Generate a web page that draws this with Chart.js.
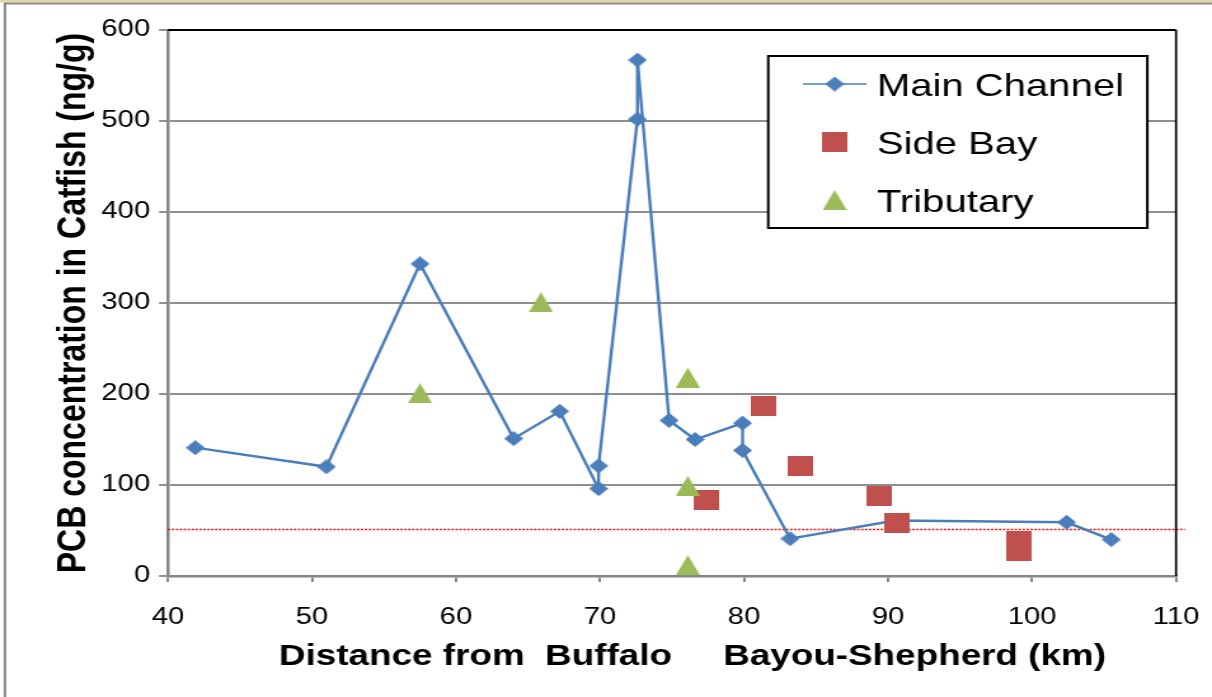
<!DOCTYPE html>
<html><head><meta charset="utf-8">
<script src="https://cdn.jsdelivr.net/npm/chart.js@4.4.1/dist/chart.umd.min.js"></script>
<style>
html,body{margin:0;padding:0;background:#fff;overflow:hidden;}
#wrap{width:954px;height:697px;transform:scaleX(1.27044);transform-origin:0 0;}
canvas{display:block;}
</style></head><body>
<div id="wrap"><canvas id="c" width="954" height="697"></canvas></div>
<script>
// ---- data ----
const seriesNames = ['Main Channel', 'Side Bay', 'Tributary'];
const mainX = [41.9, 51.0, 57.5, 64.0, 67.2, 69.9, 69.9, 72.6, 72.6, 74.8, 76.6, 79.9, 79.9, 83.2, 90.5, 102.4, 105.5];
const mainY = [141, 120, 343, 151, 181, 96, 121, 502, 567, 171, 150, 168, 138, 41, 61, 59, 40];
const sideX = [77.4, 81.4, 83.9, 89.4, 90.6, 99.1, 99.1];
const sideY = [83, 187, 121, 88, 58, 38, 27];
const tribX = [57.5, 65.9, 76.1, 76.1, 76.1];
const tribY = [201, 301, 218, 99, 12];
const refLevel = [52];
const xTicks = [40, 50, 60, 70, 80, 90, 100, 110];
const yTicks = [0, 100, 200, 300, 400, 500, 600];
const xTitle = '    Distance from  Buffalo     Bayou-Shepherd (km)';
const yTitle = 'PCB concentration in Catfish (ng/g)';

const BLUE = '#4A7EBB', RED = '#C0504D', GREEN = '#9BBB59';

function makeMarker(kind, color, w, h) {
  const c = document.createElement('canvas');
  c.width = w; c.height = h;
  const g = c.getContext('2d');
  g.fillStyle = color;
  g.beginPath();
  if (kind === 'diamond') { g.moveTo(w/2, 0); g.lineTo(w, h/2); g.lineTo(w/2, h); g.lineTo(0, h/2); }
  else if (kind === 'square') { g.rect(0, 0, w, h); }
  else { g.moveTo(w/2, 0); g.lineTo(w, h); g.lineTo(0, h); }
  g.closePath(); g.fill();
  return c;
}
const mkDiamond = makeMarker('diamond', BLUE, 15, 15);
const mkSquare = makeMarker('square', RED, 20, 20);
const mkTri = makeMarker('tri', GREEN, 19, 20);

const pts = (xs, ys) => xs.map((x, i) => ({x: x, y: ys[i]}));

const FONT = "'Liberation Sans', Arial, sans-serif";

const framePlugin = {
  id: 'frame',
  beforeDraw(chart) {
    const c = chart.ctx;
    c.save();
    c.fillStyle = '#ffffff';
    c.fillRect(0, 0, chart.width, chart.height);
    c.fillStyle = '#e2d3ad';
    c.fillRect(0, 0, chart.width, 2.5);
    c.strokeStyle = '#8a8a8a';
    c.lineWidth = 2;
    c.beginPath();
    c.moveTo(3.9, chart.height); c.lineTo(3.9, 3.5); c.lineTo(chart.width, 3.5);
    c.stroke();
    c.restore();
  },
  beforeDatasetsDraw(chart) {
    const c = chart.ctx, a = chart.chartArea, ys = chart.scales.y;
    c.save();
    c.strokeStyle = '#ff0000';
    c.lineWidth = 1.4;
    c.setLineDash([1.8, 1.3]);
    refLevel.forEach(v => {
      const py = Math.round(ys.getPixelForValue(v)) + 0.5;
      c.beginPath(); c.moveTo(a.left, py); c.lineTo(a.right + 7, py); c.stroke();
    });
    c.restore();
  },
  afterDraw(chart) {
    const c = chart.ctx, a = chart.chartArea;
    c.save();
    // plot-area border top/right
    c.strokeStyle = '#000';
    c.lineWidth = 2;
    c.beginPath(); c.moveTo(a.left, a.top); c.lineTo(a.right, a.top); c.stroke();
    c.lineWidth = 1.7;
    c.beginPath(); c.moveTo(a.right, a.top); c.lineTo(a.right, a.bottom); c.stroke();
    // legend
    const bx = 604.7, by = 56, bw = 298.4, bh = 172;
    c.fillStyle = '#fff';
    c.fillRect(bx, by, bw, bh);
    c.lineWidth = 2; c.strokeStyle = '#000';
    c.strokeRect(bx, by, bw, bh);
    c.font = '31.5px ' + FONT;
    c.fillStyle = '#000';
    c.textBaseline = 'alphabetic';
    c.textAlign = 'left';
    chart.data.datasets.forEach((ds, i) => {
      const cy = by + 28 + i * 58;
      const cx = 657;
      if (ds.showLine) {
        c.strokeStyle = ds.borderColor; c.lineWidth = 1.4;
        c.beginPath(); c.moveTo(632, cy); c.lineTo(682, cy); c.stroke();
      }
      const img = ds.pointStyle;
      c.drawImage(img, cx - img.width/2, cy - img.height/2);
      c.fillText(ds.label, 690.3, cy + 12);
    });
    c.restore();
  }
};

const chart = new Chart(document.getElementById('c').getContext('2d'), {
  type: 'scatter',
  data: {
    datasets: [
      { label: seriesNames[0], data: pts(mainX, mainY), showLine: true, borderColor: BLUE, backgroundColor: BLUE,
        borderWidth: 2.4, pointStyle: mkDiamond, pointRadius: 7, tension: 0, order: 2 },
      { label: seriesNames[1], data: pts(sideX, sideY), showLine: false, borderColor: RED, backgroundColor: RED,
        pointStyle: mkSquare, pointRadius: 10, order: 1 },
      { label: seriesNames[2], data: pts(tribX, tribY), showLine: false, borderColor: GREEN, backgroundColor: GREEN,
        pointStyle: mkTri, pointRadius: 10, order: 0 }
    ]
  },
  options: {
    responsive: false, animation: false, devicePixelRatio: 1, events: [],
    layout: { padding: { left: 0, top: 30, right: 28.3, bottom: 0 } },
    plugins: { legend: { display: false }, tooltip: { enabled: false } },
    scales: {
      x: {
        type: 'linear', min: xTicks[0], max: xTicks[xTicks.length - 1],
        afterBuildTicks(s) { s.ticks = xTicks.map(v => ({ value: v })); },
        afterFit(s) { s.height = 121; s.paddingLeft = 0; s.paddingRight = 0; },
        ticks: { color: '#000', font: { family: FONT, size: 23 }, padding: 22, maxRotation: 0, autoSkip: false },
        grid: { drawOnChartArea: false, drawTicks: true, tickLength: 6, color: '#8a8a8a', lineWidth: 2 },
        border: { color: '#868686', width: 2.5 },
        title: { display: true, text: xTitle, color: '#000', font: { family: FONT, size: 29, weight: 'bold' },
                 padding: { top: 0, bottom: 23 } }
      },
      y: {
        type: 'linear', min: yTicks[0], max: yTicks[yTicks.length - 1],
        afterBuildTicks(s) { s.ticks = yTicks.map(v => ({ value: v })); },
        afterFit(s) { s.width = 132.2; s.paddingTop = 0; s.paddingBottom = 0; },
        ticks: { color: '#000', font: { family: FONT, size: 23 }, padding: 7, autoSkip: false },
        grid: { drawTicks: true, tickLength: 7, color: '#8f8f8f', lineWidth: 2 },
        border: { color: '#868686', width: 2.5 },
        title: { display: true, text: yTitle, color: '#000', font: { family: FONT, size: 32, weight: 'bold' },
                 padding: { top: 39, bottom: 0 } }
      }
    }
  },
  plugins: [framePlugin]
});
</script>
</body></html>
